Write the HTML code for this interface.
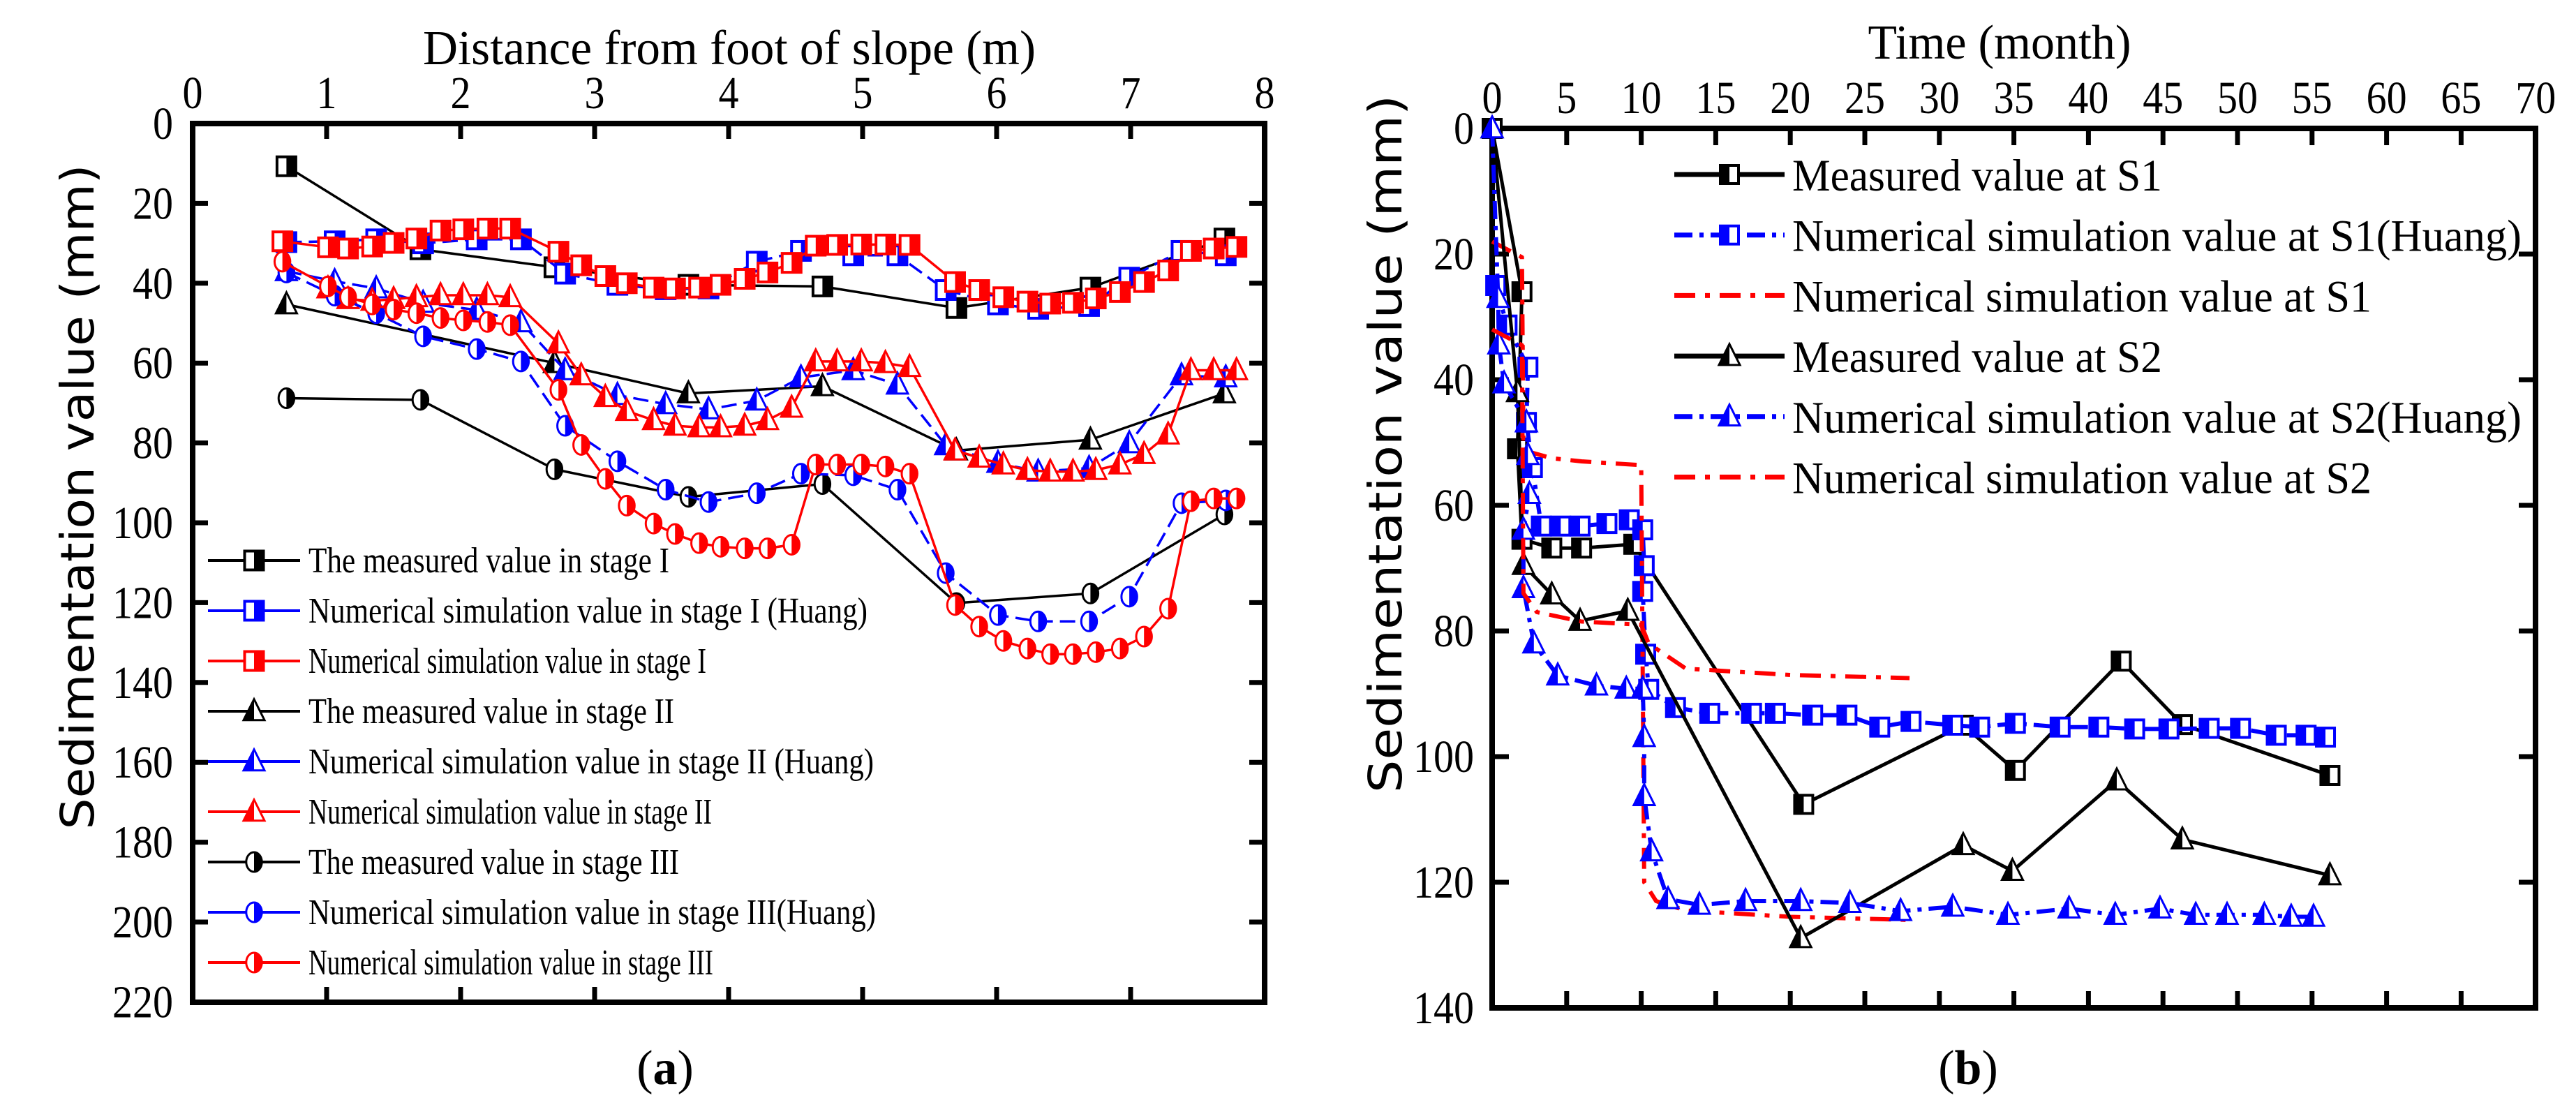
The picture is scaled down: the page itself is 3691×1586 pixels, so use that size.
<!DOCTYPE html>
<html><head><meta charset="utf-8"><style>
html,body{margin:0;padding:0;background:#fff}
svg{display:block}
text{font-family:"Liberation Serif",serif}
</style></head><body>
<svg id="fig" xmlns="http://www.w3.org/2000/svg" width="3691" height="1586" viewBox="0 0 3691 1586">
<rect width="3691" height="1586" fill="#fff"/>
<g id="chartA"></g>
<g id="chartB"></g>
</svg>
<script>
// ---------- Chart (a) data ----------
const aXTicks=[0,1,2,3,4,5,6,7,8];
const aYTicks=[0,20,40,60,80,100,120,140,160,180,200,220];
const measX=[0.7,1.7,2.7,3.7,4.7,5.7,6.7,7.7];
const meas1=[10.7,31.5,36,40.4,40.8,46.2,41.1,28.8];
const meas2X=[0.7,2.7,3.7,4.7,5.7,6.7,7.7];
const meas2=[45.3,60,67.6,65.8,81.9,79.2,67.6];
const meas3=[68.8,69.2,86.6,93.5,90.3,120.1,117.7,97.9];
const huangX=[0.7,1.06,1.37,1.72,2.12,2.45,2.78,3.17,3.53,3.85,4.21,4.54,4.93,5.26,5.62,6.01,6.31,6.69,6.99,7.38,7.71];
const huang1=[29.7,29.5,29,30,29,29,37.6,40.4,41.5,41.3,34.6,31.9,33,33,41.7,45.3,46.4,45.7,38.6,31.9,33];
const huang2=[37,39.5,41.3,44.9,46.7,49.8,61.8,68,70.3,71.6,69.4,63.6,61.8,65.4,80.6,85,87.2,86.3,80.1,63.1,63.6];
const huang3=[37.3,43.1,47.5,53.3,56.5,59.6,75.7,84.6,91.7,94.8,92.6,87.7,88.1,91.7,112.6,123.1,124.7,124.7,118.5,95.1,94.4];
const simX=[0.67,1.01,1.16,1.34,1.50,1.67,1.85,2.02,2.20,2.37,2.73,2.90,3.08,3.24,3.44,3.60,3.78,3.94,4.12,4.29,4.47,4.65,4.81,4.99,5.17,5.35,5.69,5.87,6.05,6.23,6.40,6.57,6.74,6.92,7.10,7.28,7.45,7.62,7.79];
const sim1=[29.5,31,31.3,30.8,29.9,28.8,26.8,26.5,26.3,26.3,32.1,35.5,38.2,40,41.1,41.3,41.1,40.4,38.9,37.3,34.9,30.6,30.4,30.3,30.3,30.4,39.7,41.7,43.5,44.6,45.1,44.9,43.8,42.2,39.7,36.8,31.9,31.3,30.9];
const sim2X=simX.slice(1);
const sim2=[41.3,44,44.4,44,43.5,43,43,43,43.5,55.1,63.1,68.5,72,74.3,75.7,76.1,76.1,75.7,74.3,71.2,59.6,59.6,59.6,60,61,81.9,83.7,85.4,86.8,87.2,87.2,86.8,85.4,82.8,77.9,61.8,61.8,61.8];
const sim3=[34.6,40.8,43.5,45.3,46.6,47.5,48.7,49.3,49.7,50.5,66.7,80.5,89,95.7,100.2,102.8,105.1,106,106.4,106.4,105.5,85.4,85.4,85.4,85.9,87.7,120.6,126,129.6,131.5,132.9,132.9,132.4,131.5,128.5,121.5,94.6,93.9,93.9];
const aLegend=["The measured value in stage I","Numerical simulation value in stage I (Huang)","Numerical simulation value in stage I","The measured value in stage II","Numerical simulation value in stage II (Huang)","Numerical simulation value in stage II","The measured value in stage III","Numerical simulation value in stage III(Huang)","Numerical simulation value in stage III"];

// ---------- Chart (b) data ----------
const bXTicks=[0,5,10,15,20,25,30,35,40,45,50,55,60,65,70];
const bYTicks=[0,20,40,60,80,100,120,140];
const mS1T=[0,2,1.7,2,4,6,9.5,20.9,31.6,35.1,42.2,46.3,56.2];
const mS1V=[0,26,51,65.4,66.8,66.8,66.2,107.6,95,102.2,84.8,94.9,103];
const hS1T=[0.24,1.0,2.4,2.3,2.7,3.3,4.6,5.9,7.7,9.2,10.1,10.2,10.1,10.3,10.5,12.3,14.6,17.4,19.0,21.5,23.8,26,28.1,30.9,32.7,35.1,38.1,40.7,43.1,45.4,48.1,50.2,52.6,54.6,55.9];
const hS1V=[25,31.3,38,46.8,54,63.3,63.3,63.3,62.9,62.3,63.9,69.6,73.7,83.7,89.3,92.2,93.1,93.1,93.1,93.4,93.4,95.3,94.4,95,95.3,94.7,95.3,95.3,95.6,95.6,95.5,95.5,96.6,96.6,96.9];
const rS1T=[0,2,2.1,2.5,4,6,8,10,10.2,11,13,20,28];
const rS1V=[18,20.5,50,51.5,52.5,53,53.3,53.6,120,123,124.5,125.5,126];
const mS2T=[0,1.7,2.1,4.0,5.9,9.1,20.7,31.6,34.9,41.9,46.3,56.2];
const mS2V=[0,42,69.5,74.2,78.4,76.8,128.9,114.1,118.2,103.8,113.2,118.9];
const hS2T=[0,0.4,0.45,0.8,2.3,2.4,2.5,2.1,2.1,2.8,4.4,7.0,9.0,10.1,10.2,10.2,10.7,11.8,13.9,17.0,20.7,24.0,27.4,30.9,34.6,38.7,41.8,44.8,47.2,49.3,51.8,53.6,55.1];
const hS2V=[0,27,34.4,40.6,46.8,52,58.2,63.9,73.2,82,87.1,88.7,89.2,89.2,96.9,106.3,115.1,122.7,123.6,123,123,123.3,124.6,123.9,125.2,124.2,125.2,124.2,125.2,125.2,125.2,125.5,125.5];
const rS2T=[0,2,2.1,3,6,10,10.5,13,20,28];
const rS2V=[32,34.5,74,77,78.5,79,82,86,87,87.5];
const bLegend=["Measured value at S1","Numerical simulation value at S1(Huang)","Numerical simulation value at S1","Measured value at S2","Numerical simulation value at S2(Huang)","Numerical simulation value at S2"];

const NS="http://www.w3.org/2000/svg";
function mk(tag,attrs,parent){const e=document.createElementNS(NS,tag);for(const k in attrs)e.setAttribute(k,attrs[k]);parent.appendChild(e);return e;}

function marker(g,type,cx,cy,s,color,side,sw){
  const h=s/2;
  const grp=mk('g',{},g);
  if(type==='sq'){
    mk('rect',{x:cx-h,y:cy-h,width:s,height:s,fill:'#fff',stroke:color,'stroke-width':sw},grp);
    mk('rect',{x:side==='r'?cx:cx-h,y:cy-h,width:h,height:s,fill:color},grp);
  }else if(type==='tri'){
    mk('polygon',{points:`${cx},${cy-h*1.15} ${cx-h},${cy+h*0.85} ${cx+h},${cy+h*0.85}`,fill:'#fff',stroke:color,'stroke-width':sw,'stroke-linejoin':'miter'},grp);
    mk('polygon',{points:`${cx},${cy-h*1.15} ${cx-h},${cy+h*0.85} ${cx},${cy+h*0.85}`,fill:color},grp);
  }else{
    mk('ellipse',{cx:cx,cy:cy,rx:h*0.8,ry:h,fill:'#fff',stroke:color,'stroke-width':sw},grp);
    mk('path',{d:`M${cx},${cy-h} A${h*0.8},${h} 0 0 ${side==='r'?1:0} ${cx},${cy+h} Z`,fill:color},grp);
  }
  return grp;
}

function series(g,xs,ys,X,Y,o,name){
  const sg=mk('g',{},g);
  
  
  const pts=xs.map((x,i)=>X(x)+','+Y(ys[i])).join(' ');
  const ln=mk('polyline',{points:pts,fill:'none',stroke:o.color,'stroke-width':o.lw,'stroke-dasharray':o.dash||'none','stroke-linejoin':'round'},sg);
  
  
  if(o.marker){
    xs.forEach((x,i)=>{
      const m=marker(sg,o.marker,X(x),Y(ys[i]),o.size,o.color,o.side,o.msw);
      
      
    });
  }
}

function axesFrame(g,x0,y0,x1,y1,xt,yt,X,Y,opt){
  const fr=mk('rect',{x:x0,y:y0,width:x1-x0,height:y1-y0,fill:'none',stroke:'#000','stroke-width':8},g);
  
  
  xt.forEach(v=>{
    const x=X(v);
    if(v!==xt[0]&&v!==xt[xt.length-1]){
      const t1=mk('line',{x1:x,y1:y0,x2:x,y2:y0+opt.tl,stroke:'#000','stroke-width':7},g);
      
      
      mk('line',{x1:x,y1:y1,x2:x,y2:y1-opt.tl,stroke:'#000','stroke-width':7},g);
    }
    const s=String(v);
    const t=mk('text',{x:x,y:opt.xlabY,'font-size':opt.fs,'text-anchor':'middle',textLength:s.length*opt.dw,lengthAdjust:'spacingAndGlyphs'},g);
    t.textContent=s;
    
    
  });
  yt.forEach(v=>{
    const y=Y(v);
    if(v!==yt[0]&&v!==yt[yt.length-1]){
      const t1=mk('line',{x1:x0,y1:y,x2:x0+opt.tl,y2:y,stroke:'#000','stroke-width':7},g);
      
      
      mk('line',{x1:x1,y1:y,x2:x1-opt.tl,y2:y,stroke:'#000','stroke-width':7},g);
    }
    const s=String(v);
    const t=mk('text',{x:opt.ylabX,y:y+22,'font-size':opt.fs,'text-anchor':'end',textLength:s.length*opt.dw,lengthAdjust:'spacingAndGlyphs'},g);
    t.textContent=s;
    
    
  });
}

// ---------- Chart (a) ----------
(function(){
  const g=document.getElementById('chartA');
  const X=x=>276+x*192, Y=v=>177+v*5.72;
  axesFrame(g,276,177,1812,1436,aXTicks,aYTicks,X,Y,{tl:22,fs:66,dw:29,xlabY:155,ylabX:248});
  const xt=mk('text',{x:1045,y:92,'font-size':70,'text-anchor':'middle',textLength:878,lengthAdjust:'spacingAndGlyphs'},g);
  xt.textContent='Distance from foot of slope (m)';
  
  
  const yt=mk('text',{x:0,y:0,'font-size':66,'text-anchor':'middle',transform:'translate(134,712) rotate(-90)',textLength:953,lengthAdjust:'spacingAndGlyphs',style:'font-family:"DejaVu Sans","Liberation Sans",sans-serif'},g);
  yt.textContent='Sedimentation value (mm)';
  
  
  const cap=mk('text',{x:953,y:1553,'font-size':70,'text-anchor':'middle'},g);
  cap.innerHTML='(<tspan font-weight="bold">a</tspan>)';
  
  

  const BL='#0000ff',RD='#ff0000',BK='#000';
  const defs=[
    [measX,meas1,{color:BK,lw:3.5,marker:'sq',size:27,side:'r',msw:4},'measured-stage-1'],
    [huangX,huang1,{color:BL,lw:3.5,dash:'22 10',marker:'sq',size:27,side:'r',msw:4},'huang-stage-1'],
    [simX,sim1,{color:RD,lw:3.5,marker:'sq',size:27,side:'r',msw:4},'sim-stage-1'],
    [meas2X,meas2,{color:BK,lw:3.5,marker:'tri',size:30,side:'l',msw:3},'measured-stage-2'],
    [huangX,huang2,{color:BL,lw:3.5,dash:'22 10',marker:'tri',size:30,side:'l',msw:3},'huang-stage-2'],
    [sim2X,sim2,{color:RD,lw:3.5,marker:'tri',size:30,side:'l',msw:3},'sim-stage-2'],
    [measX,meas3,{color:BK,lw:3.5,marker:'ci',size:28,side:'r',msw:3},'measured-stage-3'],
    [huangX,huang3,{color:BL,lw:3.5,dash:'22 10',marker:'ci',size:28,side:'r',msw:3},'huang-stage-3'],
    [simX,sim3,{color:RD,lw:3.5,marker:'ci',size:28,side:'r',msw:3},'sim-stage-3']
  ];
  defs.forEach(d=>series(g,d[0],d[1],X,Y,d[2],d[3]));
  const lg=mk('g',{},g);
  
  
  const widths=[517,801,570,524,810,578,531,813,580];
  aLegend.forEach((lab,i)=>{
    const y=803+i*72;
    const e=mk('g',{},lg);
    
    
    const o=defs[i][2];
    mk('line',{x1:298,y1:y,x2:430,y2:y,stroke:o.color,'stroke-width':4},e);
    marker(e,o.marker,364,y,o.size,o.color,o.side,o.msw);
    const t=mk('text',{x:442,y:y+17,'font-size':52,textLength:widths[i],lengthAdjust:'spacingAndGlyphs'},e);
    t.textContent=lab;
  });
})();

// ---------- Chart (b) ----------
(function(){
  const g=document.getElementById('chartB');
  const X=t=>2138+t*21.36, Y=v=>184+v*9.0;
  axesFrame(g,2138,184,3633,1444,bXTicks,bYTicks,X,Y,{tl:24,fs:66,dw:29,xlabY:162,ylabX:2112});
  const xt=mk('text',{x:2865,y:84,'font-size':70,'text-anchor':'middle',textLength:377,lengthAdjust:'spacingAndGlyphs'},g);
  xt.textContent='Time (month)';
  
  
  const yt=mk('text',{x:0,y:0,'font-size':66,'text-anchor':'middle',transform:'translate(2008,636) rotate(-90)',textLength:1000,lengthAdjust:'spacingAndGlyphs',style:'font-family:"DejaVu Sans","Liberation Sans",sans-serif'},g);
  yt.textContent='Sedimentation value (mm)';
  
  
  const cap=mk('text',{x:2820,y:1553,'font-size':70,'text-anchor':'middle'},g);
  cap.innerHTML='(<tspan font-weight="bold">b</tspan>)';
  
  

  const BL='#0000ff',RD='#ff0000',BK='#000';
  const defs=[
    [mS1T,mS1V,{color:BK,lw:5,marker:'sq',size:26,side:'l',msw:4},'measured-s1'],
    [hS1T,hS1V,{color:BL,lw:6,dash:'26 10 6 10',marker:'sq',size:26,side:'l',msw:4},'huang-s1'],
    [rS1T,rS1V,{color:RD,lw:6,dash:'30 14 7 14'},'sim-s1'],
    [mS2T,mS2V,{color:BK,lw:5,marker:'tri',size:30,side:'l',msw:3},'measured-s2'],
    [hS2T,hS2V,{color:BL,lw:6,dash:'26 10 6 10',marker:'tri',size:30,side:'l',msw:3},'huang-s2'],
    [rS2T,rS2V,{color:RD,lw:6,dash:'30 14 7 14'},'sim-s2']
  ];
  defs.forEach(d=>series(g,d[0],d[1],X,Y,d[2],d[3]));
  const lg=mk('g',{},g);
  
  
  const widths=[530,1045,830,530,1045,830];
  bLegend.forEach((lab,i)=>{
    const y=250+i*86.7;
    const e=mk('g',{},lg);
    
    
    const o=defs[i][2];
    mk('line',{x1:2399,y1:y,x2:2557,y2:y,stroke:o.color,'stroke-width':7,'stroke-dasharray':o.dash||'none'},e);
    if(o.marker) marker(e,o.marker,2478,y,o.size,o.color,o.side,o.msw);
    const t=mk('text',{x:2568,y:y+23,'font-size':65,textLength:widths[i],lengthAdjust:'spacingAndGlyphs'},e);
    t.textContent=lab;
  });
})();
</script>
</body></html>
